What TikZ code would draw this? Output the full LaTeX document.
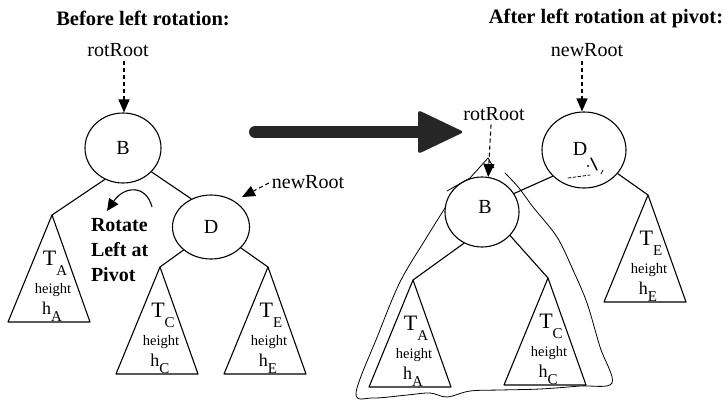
\documentclass[tikz,border=0pt]{standalone}
\usepackage{fontspec}
\setmainfont{Liberation Serif}
\usetikzlibrary{arrows.meta,shapes.geometric,calc}
\newcommand\fs[1]{\fontsize{#1}{#1}\selectfont}
\newcommand\subtree[2]{%
  \draw[edge] (#1) -- ++(-44,107) -- ++(82,0) -- cycle;
  \node[txt, anchor=base] (#1t) at ($(#1)+(3,50)$) {\fs{22}T\raisebox{-10pt}{\fs{15}#2}};
  \node[txt, anchor=base] (#1h) at ($(#1)+(1,78)$) {\fs{14.5}height};
  \node[txt, anchor=base] (#1x) at ($(#1)+(0,99)$) {\fs{18}h\raisebox{-7pt}{\fs{15}#2}};
}
\begin{document}
\begin{tikzpicture}[x=1pt,y=-1pt,
  edge/.style={line width=1.1pt, line join=round},
  txt/.style={inner sep=0pt, outer sep=0pt},
  lbl/.style={txt, font=\fs{20}},
  title/.style={txt, font=\bfseries\fs{20.5}},
  circ/.style={ellipse, draw, line width=1.1pt, inner sep=0pt, font=\fs{20}},
  ptr/.style={line width=1.1pt, dash pattern=on 4pt off 3pt, -{Triangle[length=13pt,width=11pt]}},
  sketch/.style={line width=0.8pt, line cap=round, line join=round}
]
\useasboundingbox (0,0) rectangle (725,400);
\fill[white] (0,0) rectangle (725,400);

% ---------- left: before rotation ----------
\node[title] (t1) at (143,18) {Before left rotation:};
\node[lbl] (rrL) at (118,50) {rotRoot};
\node[circ, minimum width=76pt, minimum height=70pt] (Bl) at (123,148) {B};
\node[circ, minimum width=77pt, minimum height=64pt] (Dl) at (211,227) {D};
\node[lbl] (nrL) at (308,182) {newRoot};

\draw[ptr] ($(rrL.south)+(6,4)$) -- ($(Bl.north)+(1,0)$);
\draw[ptr] ($(nrL.west)+(-3,1)$) -- ($(Dl.45)+(6,-5)$);

\coordinate (aAl) at (52,215);
\coordinate (aCl) at (160,267);
\coordinate (aEl) at (268,267);
\draw[edge] (Bl.-120) -- (aAl);
\draw[edge] (Bl.-40) -- (Dl.125);
\draw[edge] (Dl.-140) -- (aCl);
\draw[edge] (Dl.-35) -- (aEl);
\subtree{aAl}{A}
\subtree{aCl}{C}
\subtree{aEl}{E}

\coordinate (rs) at (152,207);
\coordinate (re) at (107,211);
\draw[edge, -{Triangle[length=12pt,width=11pt]}] (rs) .. controls (146,184) and (124,186) .. (re);
\node[txt, font=\bfseries\fontsize{20}{25}\selectfont, align=left, anchor=west] (rot) at (91,250) {Rotate\\Left at\\Pivot};

% ---------- big arrow ----------
\coordinate (ba1) at (255,132);
\coordinate (ba2) at (422,132);
\draw[line width=12pt, line cap=round, black!85] (ba1) -- (ba2);
\fill[black!85, rounded corners=3pt] (418,110) -- (464,132) -- (418,154) -- cycle;

% ---------- right: after rotation ----------
\node[title] (t2) at (606,18) {After left rotation at pivot:};
\node[lbl] (nrR) at (587,50) {newRoot};
\node[lbl] (rrR) at (494,114) {rotRoot};
\node[circ, minimum width=84pt, minimum height=76pt] (Dr) at (584,150) {};
\node[txt, font=\fs{20}] (DrL) at (580,149) {D};
\node[circ, minimum width=74pt, minimum height=70pt] (Br) at (482,212) {};
\node[txt, font=\fs{20}] (BrL) at (485,207) {B};

\draw[ptr] ($(nrR.south)+(-5,4)$) -- ($(Dr.north)+(-2,0)$);
\draw[ptr] ($(rrR.south)+(-3,4)$) -- (Br.80);

\coordinate (aEr) at (648,195);
\coordinate (aAr) at (413,280);
\coordinate (aCr) at (548,278);
\draw[edge] (Dr.-140) -- (Br.30);
\draw[edge] (Dr.-35) -- (aEr);
\draw[edge] (Br.-120) -- (aAr);
\draw[edge] (Br.-40) -- (aCr);
\subtree{aEr}{E}
\subtree{aAr}{A}
\subtree{aCr}{C}

% scribbles in D
\draw[sketch, line width=1.4pt] (591,158) -- (597,170);
\draw[sketch, dash pattern=on 3pt off 2pt] (568,178) -- (590,175);
\fill (588,166) circle (1.1pt);
\draw[sketch] (601,174) -- (603,170);

% freehand outline round the rotated subtree
\draw[sketch] (447,191) -- (470,178) -- (488,158) -- (494,168);
\draw[sketch] plot[smooth, tension=0.55] coordinates {(445,208) (425,240) (400,282) (378,335) (356,393) (373,398) (407,395) (430,393) (447,397) (470,391) (500,390) (540,389) (580,386) (612,383) (600,347) (587,303) (573,270) (557,237) (533,207) (519,188) (505,173)};
\end{tikzpicture}
\end{document}
